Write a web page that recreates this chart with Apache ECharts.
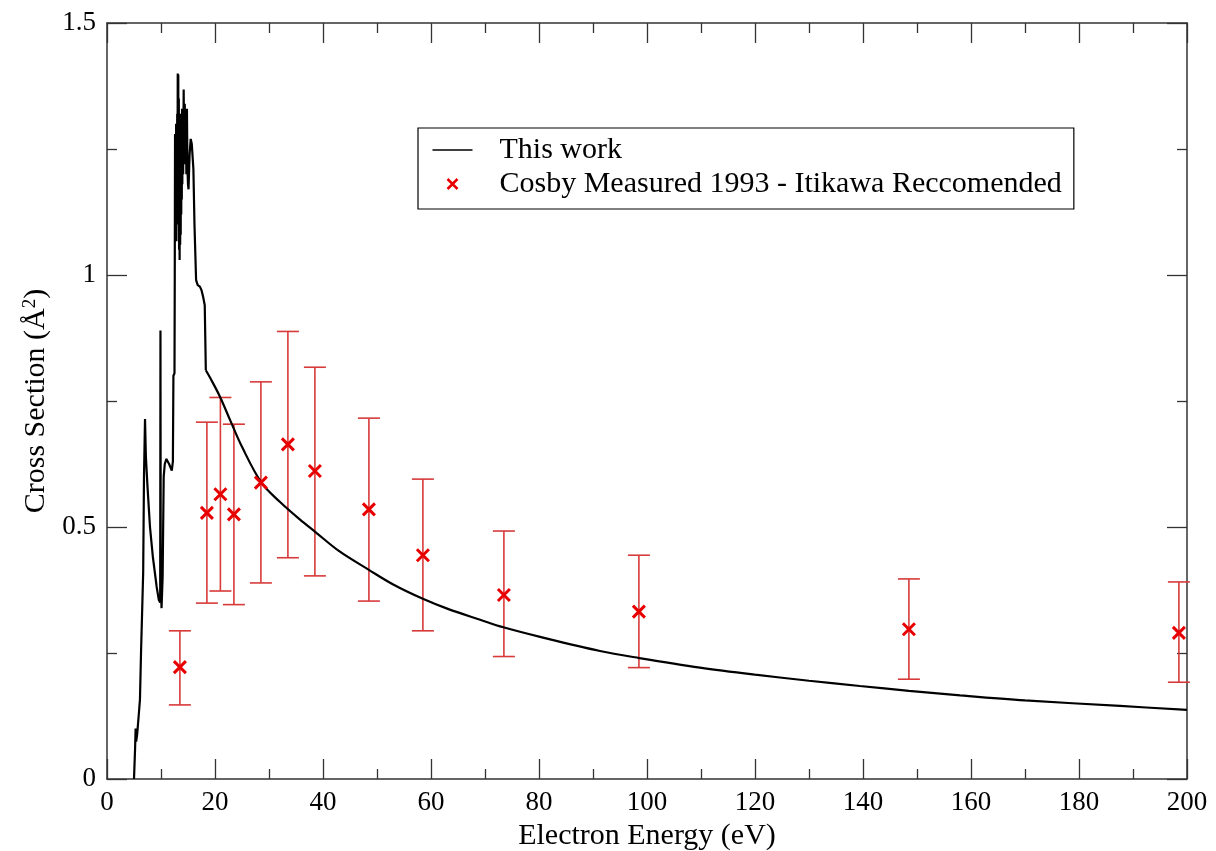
<!DOCTYPE html>
<html>
<head>
<meta charset="utf-8">
<script src="https://cdn.jsdelivr.net/npm/echarts@6/dist/echarts.min.js"></script>
<style>html,body{margin:0;padding:0;background:#fff}#c{width:1216px;height:851px}</style>
</head>
<body>
<div id="c"></div>
<script>
// "This work" curve, resonance region: [energy (eV), cross section (Å^2)]
var workEnergyLow = [5.0,5.06,5.2,5.3,5.4,5.6,5.9,6.1,6.3,6.5,6.7,6.85,7.04,7.2,7.5,7.96,8.5,9.2,9.6,9.85,9.9,9.95,10.1,10.3,10.5,10.7,11.0,11.5,12.0,12.2,12.3,12.5,
  12.55,12.6,12.65,12.7,12.75,12.8,12.85,12.9,12.95,13.0,13.05,13.1,13.15,13.2,13.25,13.3,13.35,13.4,13.45,13.5,13.55,13.6,13.65,13.7,13.75,13.8,13.85,13.9,13.95,14.0,14.1,14.2,14.3,14.4,14.5,14.6,14.7,14.8,14.9,15.0,15.1,15.3,15.5,15.7,16.0,16.2,16.5,16.8,17.2,17.5,17.8,18.1,18.2,18.3];
var workCrossLow  = [0,0.0,0.06,0.10,0.074,0.09,0.13,0.157,0.25,0.33,0.41,0.60,0.714,0.64,0.58,0.50,0.44,0.381,0.355,0.35,0.89,0.40,0.339,0.40,0.60,0.625,0.635,0.625,0.612,0.63,0.80,0.805,
  1.00,1.28,1.07,1.25,1.10,1.30,1.067,1.28,1.12,1.32,1.15,1.40,1.20,1.398,1.10,1.35,1.05,1.30,1.03,1.28,1.06,1.25,1.08,1.32,1.12,1.30,1.15,1.33,1.18,1.30,1.20,1.368,1.22,1.34,1.25,1.31,1.20,1.33,1.21,1.18,1.17,1.24,1.27,1.26,1.21,1.10,0.99,0.98,0.977,0.97,0.957,0.94,0.937,0.811];
// "This work" curve, smooth tail
var workEnergyHigh = [18.3,19.1,20.9,22.8,25,28.6,32,35.7,38.6,43,48.5,53,58.6,63,69.1,73.4,80.2,91.3,98.6,109.8,120,130,139.4,148.5,158,170,187.6,200];
var workCrossHigh  = [0.811,0.796,0.759,0.712,0.659,0.588,0.550,0.515,0.490,0.452,0.415,0.386,0.357,0.338,0.316,0.301,0.282,0.254,0.240,0.221,0.207,0.195,0.1845,0.175,0.166,0.156,0.145,0.137];

// Cosby measured 1993 - Itikawa recommended
var cosbyEnergy = [13.5,18.5,21,23.5,28.5,33.5,38.5,48.5,58.5,73.5,98.5,148.5,198.5];
var cosbyCross  = [0.222,0.528,0.565,0.525,0.588,0.664,0.611,0.535,0.444,0.365,0.332,0.297,0.290];
var cosbyLow    = [0.147,0.349,0.373,0.346,0.389,0.439,0.403,0.353,0.294,0.243,0.221,0.198,0.192];
var cosbyHigh   = [0.294,0.708,0.757,0.704,0.788,0.888,0.817,0.716,0.595,0.492,0.444,0.397,0.391];

var xTicks = {min:0, max:200, interval:20};
var yTicks = {min:0, max:1.5, interval:0.5};

function pairs(a,b){return a.map(function(e,i){return [e,b[i]];});}
var workLow = pairs(workEnergyLow, workCrossLow);
var workHigh = pairs(workEnergyHigh, workCrossHigh);
var cosbyData = pairs(cosbyEnergy, cosbyCross);
var errData = cosbyEnergy.map(function(e,i){return [e, cosbyLow[i], cosbyHigh[i]];});

var FONT = 'Liberation Serif';
var axisCol = '#333';
function axisBase(show){
  return {
    axisLine:{show:true, onZero:false, lineStyle:{color:axisCol, width:1.5}},
    axisTick:{show:true, inside:true, length:20, lineStyle:{color:axisCol, width:1.3}},
    minorTick:{show:true, splitNumber:2, length:10, lineStyle:{color:axisCol, width:1.3}},
    splitLine:{show:false},
    axisLabel:{show:show, color:'#000', fontFamily:FONT, fontSize:27}
  };
}
var xb = axisBase(true);
Object.assign(xb, {type:'value', gridIndex:0, position:'bottom', min:xTicks.min, max:xTicks.max, interval:xTicks.interval,
  name:'Electron Energy (eV)', nameLocation:'middle', nameGap:38, nameTextStyle:{color:'#000', fontFamily:FONT, fontSize:30}});
xb.axisLabel.margin = 10;
var xt = axisBase(false);
Object.assign(xt, {type:'value', gridIndex:0, position:'top', min:xTicks.min, max:xTicks.max, interval:xTicks.interval});
var yl = axisBase(true);
Object.assign(yl, {type:'value', gridIndex:0, position:'left', min:yTicks.min, max:yTicks.max, interval:yTicks.interval,
  name:'Cross Section (Å{sup|2})', nameLocation:'middle', nameGap:52, nameRotate:90,
  nameTextStyle:{color:'#000', fontFamily:FONT, fontSize:30, rich:{sup:{fontFamily:FONT, fontSize:19, verticalAlign:'top', padding:[0,0,12,0]}}}});
yl.axisLabel.margin = 11;
var yr = axisBase(false);
Object.assign(yr, {type:'value', gridIndex:0, position:'right', min:yTicks.min, max:yTicks.max, interval:yTicks.interval});

var chart = echarts.init(document.getElementById('c'), null, {renderer:'canvas'});
chart.setOption({
  backgroundColor:'#fff',
  animation:false,
  grid:{left:107, right:29, top:23, bottom:72, containLabel:false, outerBoundsMode:'none'},
  xAxis:[xb, xt],
  yAxis:[yl, yr],
  legend:{
    orient:'vertical', left:418, top:128,
    backgroundColor:'#fff', borderColor:'#000', borderWidth:1.2,
    padding:[5,12,8,12], itemGap:0, itemWidth:40, itemHeight:14,
    textStyle:{color:'#000', fontFamily:FONT, fontSize:30, lineHeight:34, padding:[0,0,0,22]},
    data:[
      {name:'This work', icon:'path://M0,0M40,14M0,7L40,7', itemStyle:{color:'none', borderColor:'#000', borderWidth:1.5}},
      {name:'Cosby Measured 1993 - Itikawa Reccomended', icon:'path://M0,0M40,14M15,2L25,12M25,2L15,12',
       itemStyle:{color:'none', borderColor:'#e80000', borderWidth:2.5}}
    ]
  },
  series:[
    {name:'This work', type:'line', xAxisIndex:0, yAxisIndex:0, data:workLow, showSymbol:false, symbol:'none',
     lineStyle:{color:'#000', width:2.2}, itemStyle:{color:'#000'}, z:3},
    {name:'This work', type:'line', xAxisIndex:0, yAxisIndex:0, data:workHigh, showSymbol:false, symbol:'none',
     smooth:0.35,
     lineStyle:{color:'#000', width:2.2}, itemStyle:{color:'#000'}, z:3},
    {name:'errbars', type:'custom', xAxisIndex:0, yAxisIndex:0, data:errData, z:2,
     renderItem:function(params, api){
       var x = api.value(0), lo = api.value(1), hi = api.value(2);
       var pLo = api.coord([x, lo]), pHi = api.coord([x, hi]);
       var w = 11;
       var st = {stroke:'#d83a3a', lineWidth:1.6};
       return {type:'group', children:[
         {type:'line', shape:{x1:pLo[0], y1:pLo[1], x2:pHi[0], y2:pHi[1]}, style:st},
         {type:'line', shape:{x1:pLo[0]-w, y1:pLo[1], x2:pLo[0]+w, y2:pLo[1]}, style:st},
         {type:'line', shape:{x1:pHi[0]-w, y1:pHi[1], x2:pHi[0]+w, y2:pHi[1]}, style:st}
       ]};
     }},
    {name:'Cosby Measured 1993 - Itikawa Reccomended', type:'scatter', xAxisIndex:0, yAxisIndex:0, data:cosbyData,
     symbol:'path://M0,0L10,10M10,0L0,10', symbolSize:12,
     itemStyle:{color:'none', borderColor:'#e80000', borderWidth:3, opacity:1}, z:4}
  ]
});
</script>
</body>
</html>
